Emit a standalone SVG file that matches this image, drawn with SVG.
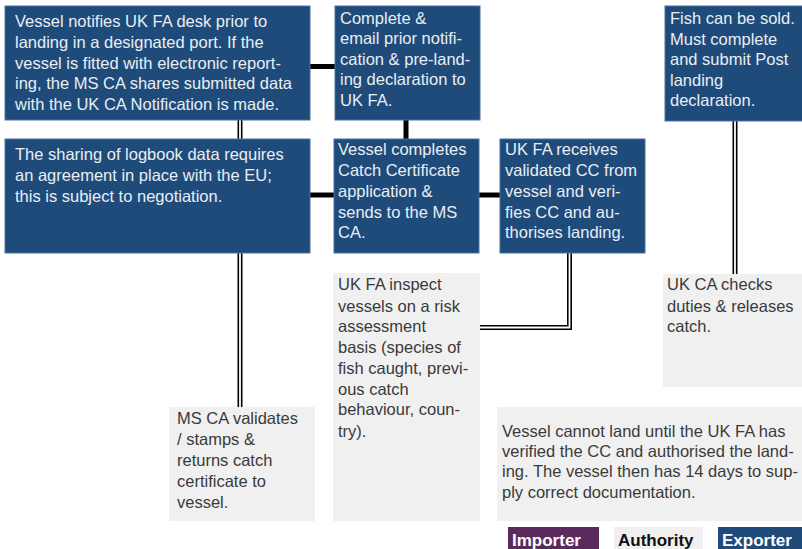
<svg xmlns="http://www.w3.org/2000/svg" width="802" height="549" viewBox="0 0 802 549">
<style>
.b{fill:#1f4b7a;stroke:#4a72a0;stroke-width:1}
.g{fill:#f0f0f0}
.tb{font-family:"Liberation Sans",Arial,sans-serif;font-size:16.5px;fill:#e9eef4}
.tg{font-family:"Liberation Sans",Arial,sans-serif;font-size:16.5px;fill:#3a3a3a}
.thick{stroke:#000;stroke-width:5;fill:none}
.dblo{stroke:#000;stroke-width:5;fill:none}
.dbli{stroke:#fff;stroke-width:1.8;fill:none}
.lg{font-family:"Liberation Sans",Arial,sans-serif;font-size:17px;font-weight:bold}
</style>
<rect width="802" height="549" fill="#fff"/>
<g id="connectors">
<line class="thick" x1="310" y1="66.5" x2="335" y2="66.5"/>
<line class="thick" x1="406" y1="120" x2="406" y2="139"/>
<line class="thick" x1="310" y1="195" x2="334" y2="195"/>
<line class="thick" x1="479" y1="195" x2="500" y2="195"/>
<path class="dblo" d="M240,120V139"/>
<path class="dbli" d="M240,120V139"/>
<path class="dblo" d="M240,253V407"/>
<path class="dbli" d="M240,253V407"/>
<path class="dblo" d="M569.5,253V327.5H480"/>
<path class="dbli" d="M569.5,253V327.5H480"/>
<path class="dblo" d="M735,121V274"/>
<path class="dbli" d="M735,121V274"/>
</g>
<g id="n1"><rect class="b" x="5" y="6" width="305" height="114"/>
<text class="tb"><tspan x="15" y="27">Vessel notifies UK FA desk prior to</tspan><tspan x="15" y="48">landing in a designated port. If the</tspan><tspan x="15" y="68.5">vessel is fitted with electronic report-</tspan><tspan x="15" y="89">ing, the MS CA shares submitted data</tspan><tspan x="15" y="110">with the UK CA Notification is made.</tspan></text></g>
<g id="n2"><rect class="b" x="5" y="139" width="305" height="114"/>
<text class="tb"><tspan x="15" y="160">The sharing of logbook data requires</tspan><tspan x="15" y="181">an agreement in place with the EU;</tspan><tspan x="15" y="202">this is subject to negotiation.</tspan></text></g>
<g id="n3"><rect class="b" x="335" y="6" width="145" height="114"/>
<text class="tb"><tspan x="340" y="23.5">Complete &amp;</tspan><tspan x="340" y="44">email prior notifi-</tspan><tspan x="340" y="64.5">cation &amp; pre-land-</tspan><tspan x="340" y="85">ing declaration to</tspan><tspan x="340" y="105.5">UK FA.</tspan></text></g>
<g id="n4"><rect class="b" x="334" y="139" width="145" height="114"/>
<text class="tb"><tspan x="338" y="155">Vessel completes</tspan><tspan x="338" y="176">Catch Certificate</tspan><tspan x="338" y="197">application &amp;</tspan><tspan x="338" y="217.5">sends to the MS</tspan><tspan x="338" y="238">CA.</tspan></text></g>
<g id="n5"><rect class="b" x="500" y="139" width="145" height="114"/>
<text class="tb"><tspan x="505" y="155">UK FA receives</tspan><tspan x="505" y="176">validated CC from</tspan><tspan x="505" y="197">vessel and veri-</tspan><tspan x="505" y="217.5">fies CC and au-</tspan><tspan x="505" y="238">thorises landing.</tspan></text></g>
<g id="n6"><rect class="b" x="665" y="6" width="138" height="115"/>
<text class="tb"><tspan x="670" y="23.5">Fish can be sold.</tspan><tspan x="670" y="44.5">Must complete</tspan><tspan x="670" y="65">and submit Post</tspan><tspan x="670" y="86">landing</tspan><tspan x="670" y="106">declaration.</tspan></text></g>
<g id="n7"><rect class="g" x="169" y="407" width="146" height="114"/>
<text class="tg"><tspan x="177" y="423.5">MS CA validates</tspan><tspan x="177" y="445">/ stamps &amp;</tspan><tspan x="177" y="465.5">returns catch</tspan><tspan x="177" y="486.5">certificate to</tspan><tspan x="177" y="508">vessel.</tspan></text></g>
<g id="n8"><rect class="g" x="333" y="273" width="147" height="248"/>
<text class="tg"><tspan x="338" y="290">UK FA inspect</tspan><tspan x="338" y="311.5">vessels on a risk</tspan><tspan x="338" y="332">assessment</tspan><tspan x="338" y="353">basis (species of</tspan><tspan x="338" y="374">fish caught, previ-</tspan><tspan x="338" y="394.5">ous catch</tspan><tspan x="338" y="415">behaviour, coun-</tspan><tspan x="338" y="436.5">try).</tspan></text></g>
<g id="n9"><rect class="g" x="663" y="274" width="139" height="113"/>
<text class="tg"><tspan x="667" y="290">UK CA checks</tspan><tspan x="667" y="311.5">duties &amp; releases</tspan><tspan x="667" y="332">catch.</tspan></text></g>
<g id="n10"><rect class="g" x="497" y="407" width="305" height="114"/>
<text class="tg"><tspan x="502" y="437">Vessel cannot land until the UK FA has</tspan><tspan x="502" y="457">verified the CC and authorised the land-</tspan><tspan x="502" y="477">ing. The vessel then has 14 days to sup-</tspan><tspan x="502" y="497.5">ply correct documentation.</tspan></text></g>
<g id="legend">
<rect x="508" y="527" width="91" height="22" fill="#5a2a5c"/>
<text class="lg" x="512" y="546" fill="#fff">Importer</text>
<rect x="614" y="527" width="89" height="22" fill="#f0f0f0"/>
<text class="lg" x="618" y="546" fill="#111">Authority</text>
<rect x="718" y="527" width="84" height="22" fill="#1f4b7a"/>
<text class="lg" x="722" y="546" fill="#fff">Exporter</text>
</g>
</svg>
